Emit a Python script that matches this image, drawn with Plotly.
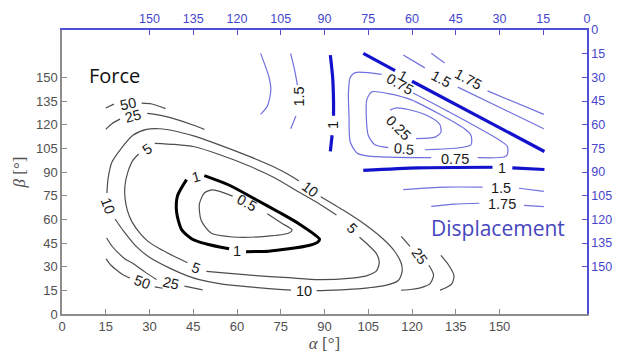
import plotly.graph_objects as go

# ---------------- Force contours (alpha, beta in degrees) ----------------
# each contour is a list of pieces; pieces are broken where a level label sits
force_50 = [
    [(15.0, 130.6), (17.8, 133.0)],
    [(27.3, 133.6), (30.8, 133.1), (35.5, 130.2)],
    [(15.1, 35.0), (16.8, 30.9), (18.7, 27.9), (20.9, 24.9), (23.3, 22.8)],
    [(31.8, 17.2), (34.5, 16.3)],
    [(129.9, 37.1), (132.6, 30.9), (134.4, 24.2), (133.7, 19.3), (131.6, 16.6), (129.6, 15.1)],
]
force_25 = [
    [(15.0, 117.0), (17.1, 120.6), (19.9, 123.5)],
    [(29.2, 127.2), (33.5, 126.1), (38.6, 123.7), (45.4, 119.5), (48.8, 117.0)],
    [(15.3, 48.2), (17.1, 43.1), (19.2, 38.9), (21.6, 34.9), (24.4, 32.0), (28.4, 26.7), (32.4, 21.8)],
    [(42.0, 17.7), (48.2, 15.3)],
    [(116.3, 49.2), (119.3, 42.8)],
    [(125.8, 30.9), (127.4, 24.8), (126.2, 19.3), (123.4, 16.9), (120.0, 15.7), (116.3, 15.1)],
]
force_10 = [
    [(15.4, 76.7), (15.8, 85.8), (17.1, 96.2), (20.4, 105.2), (24.3, 113.3), (29.0, 117.0),
     (33.5, 117.4), (38.6, 116.0), (45.4, 112.7), (53.9, 107.2), (64.2, 99.9), (72.7, 93.2),
     (77.8, 88.3), (81.2, 84.3)],
    [(88.7, 74.3), (96.5, 65.7), (104.0, 56.6), (110.2, 47.4), (113.9, 40.1), (116.3, 32.2),
     (116.6, 26.7), (115.3, 21.2), (110.9, 18.1), (105.0, 16.6), (97.2, 15.5), (87.3, 14.8)],
    [(78.5, 15.1), (64.2, 17.2), (53.9, 19.3), (47.1, 21.8), (43.0, 24.2), (36.9, 29.1),
     (30.1, 35.8), (25.0, 43.7), (21.2, 52.3), (18.2, 60.2)],
]
force_5 = [
    [(31.8, 108.2), (38.6, 107.5), (45.4, 106.0), (53.9, 101.1), (64.2, 93.8), (72.7, 86.5),
     (81.2, 77.3), (88.0, 70.0), (94.1, 62.7)],
    [(102.0, 48.6), (105.0, 43.7), (107.8, 38.3), (108.8, 32.8), (107.8, 27.3), (104.4, 24.2),
     (99.3, 22.8), (88.0, 21.8), (77.8, 23.0), (67.6, 24.2), (57.4, 25.7), (49.5, 27.0)],
    [(43.0, 32.5), (38.6, 36.4), (33.5, 41.3), (29.4, 46.2), (26.7, 51.3), (24.0, 58.4),
     (22.4, 65.7), (21.6, 73.6), (21.6, 81.6), (22.6, 90.1), (24.3, 97.4), (26.3, 101.4)],
]
force_1 = [
    [(63.1, 39.5), (70.9, 39.8), (77.8, 41.3), (84.6, 43.4), (87.7, 45.6), (88.3, 47.4),
     (81.2, 57.2), (74.4, 64.5), (66.6, 72.4), (57.4, 81.6), (48.8, 87.7)],
    [(42.7, 85.2), (39.6, 74.9), (39.3, 64.5), (41.0, 53.5), (44.7, 47.4), (49.5, 44.4), (57.3, 41.3)],
]
force_05 = [
    [(58.5, 74.7), (51.7, 78.7), (48.8, 76.7), (47.1, 69.6), (47.7, 59.4), (51.1, 51.3),
     (58.5, 48.8), (69.8, 49.2), (77.8, 51.3), (78.9, 53.3), (75.5, 57.4), (70.4, 63.5)],
]
# (level, alpha, beta, text angle)
force_labels = [
    (50, 22.6, 133.3, -12), (50, 27.5, 20.0, 20),
    (25, 24.5, 125.3, -15), (25, 37.2, 19.8, 13), (25, 122.6, 37.0, 55),
    (10, 84.9, 79.1, 37), (10, 82.9, 14.8, 0), (10, 15.8, 68.6, 70),
    (5, 99.3, 54.2, 45), (5, 46.1, 29.4, 20), (5, 29.2, 104.8, -35),
    (1, 45.8, 87.1, -15), (1, 60.1, 40.1, 0),
    (0.5, 63.5, 70.6, 28),
]

# ---------------- Displacement contours ----------------
disp_1 = [
    [(92.0, 164.1), (92.8, 149.9), (93.1, 134.7), (93.1, 125.6)],
    [(92.6, 113.3), (92.0, 103.1)],
    [(103.3, 165.2), (114.2, 154.2)],
    [(120.0, 147.5), (165.4, 103.0)],
    [(103.3, 91.0), (122.1, 92.6), (147.6, 93.0)],
    [(154.4, 92.6), (165.4, 91.6)],
]
disp_075 = [
    [(120.4, 140.1), (132.2, 128.6), (149.9, 110.3), (152.7, 106.2), (152.7, 101.1),
     (151.6, 99.5), (142.5, 99.1)],
    [(126.6, 99.1), (105.0, 100.1), (101.1, 102.1), (98.8, 109.2), (98.4, 125.5),
     (98.2, 139.7), (98.8, 149.9), (100.5, 153.0), (109.6, 151.9)],
]
disp_05 = [
    [(124.4, 104.1), (140.2, 107.2), (140.2, 113.3), (138.0, 117.4), (119.8, 135.7),
     (111.9, 139.7), (106.2, 140.8), (104.5, 135.7), (105.0, 113.3), (107.3, 107.2), (111.9, 105.4)],
]
disp_025 = [
    [(112.5, 129.2), (114.6, 130.6), (118.7, 129.6), (125.5, 125.5), (129.5, 120.3),
     (129.9, 115.1), (127.9, 112.1), (121.4, 111.2)],
]
disp_15 = [
    [(78.4, 165.2), (79.8, 154.2), (80.7, 145.0)],
    [(80.2, 125.5), (78.4, 117.4)],
    [(117.0, 164.1), (124.4, 156.0)],
    [(135.7, 143.8), (165.2, 117.4)],
    [(117.0, 78.8), (131.2, 80.4), (144.2, 80.4)],
    [(156.7, 79.7), (165.2, 77.7)],
]
disp_175 = [
    [(68.1, 165.2), (71.0, 149.9), (71.6, 141.8), (70.4, 131.6), (68.1, 126.5)],
    [(126.6, 165.2), (131.2, 159.1)],
    [(145.9, 141.4), (165.2, 126.5)],
    [(126.6, 68.2), (134.6, 69.6), (143.1, 70.2)],
    [(158.4, 68.9), (165.2, 68.0)],
]
disp_labels = [
    (1, 93.1, 119.5, -90), (1, 117.0, 151.1, 30), (1, 151.0, 92.6, 0),
    (0.75, 115.8, 145.8, 30), (0.75, 134.6, 98.0, 0),
    (0.5, 117.3, 104.8, 5), (0.25, 115.3, 117.6, 45),
    (1.5, 81.2, 137.7, -90), (1.5, 130.0, 148.9, 28), (1.5, 150.5, 79.7, 0),
    (1.75, 139.1, 148.7, 28), (1.75, 150.7, 69.6, 0),
]

bottom_ticks = list(range(0, 151, 15))
left_ticks = list(range(0, 151, 15))

GRAY_LINE = "#4d4d4d"
BLUE_THIN = "rgb(112,112,222)"
BLUE_THICK = "rgb(18,18,205)"
BLUE_AXIS = "rgb(80,80,215)"
AXIS_GRAY = "#8c8c8c"

fig = go.Figure()


def add_contour(pieces, color, width):
    for piece in pieces:
        fig.add_trace(go.Scatter(
            x=[p[0] for p in piece], y=[p[1] for p in piece],
            mode="lines", line=dict(color=color, width=width, shape="spline", smoothing=0.7),
            hoverinfo="skip", showlegend=False))


for pieces in (force_50, force_25, force_10, force_5, force_05):
    add_contour(pieces, GRAY_LINE, 1.2)
add_contour(force_1, "black", 3)
for pieces in (disp_175, disp_15, disp_075, disp_05, disp_025):
    add_contour(pieces, BLUE_THIN, 1.2)
add_contour(disp_1, BLUE_THICK, 3.2)

# empty trace so the top/right axes are rendered
fig.add_trace(go.Scatter(x=[None], y=[None], xaxis="x2", yaxis="y2",
                         mode="markers", showlegend=False, hoverinfo="skip"))

annotations = []
for level, a, b, ang in force_labels + disp_labels:
    annotations.append(dict(
        x=a, y=b, xref="x", yref="y", text=f"{level:g}", showarrow=False,
        textangle=ang, xanchor="center", yanchor="middle",
        font=dict(family="Liberation Sans, Arial, sans-serif", size=14.5, color="#1a1a1a")))

annotations.append(dict(x=17.9, y=151.1, xref="x", yref="y", text="Force", showarrow=False,
                        font=dict(family="Open Sans, sans-serif", size=20, color="#111111")))
annotations.append(dict(x=149.5, y=54.4, xref="x", yref="y", text="Displacement", showarrow=False,
                        font=dict(family="Open Sans, sans-serif", size=21, color="rgb(70,70,190)")))

tick_font_gray = dict(family="Liberation Sans, Arial, sans-serif", size=13, color="#505050")
tick_font_blue = dict(family="Liberation Sans, Arial, sans-serif", size=12.5, color="rgb(70,70,205)")

fig.update_layout(
    width=624, height=362,
    margin=dict(l=62, r=34, t=21, b=46),
    paper_bgcolor="white", plot_bgcolor="white",
    annotations=annotations,
    xaxis=dict(range=[0, 180], tickvals=bottom_ticks, ticks="inside", ticklen=5,
               tickcolor=AXIS_GRAY, showline=True, linecolor=AXIS_GRAY, linewidth=1.5,
               showgrid=False, zeroline=False, tickfont=tick_font_gray,
               title=dict(text="<i>α</i> [°]", standoff=4,
                          font=dict(family="Liberation Serif, serif", size=17, color="#505050"))),
    yaxis=dict(range=[0, 180], tickvals=left_ticks, ticks="inside", ticklen=5,
               tickcolor=AXIS_GRAY, showline=True, linecolor=AXIS_GRAY, linewidth=1.5,
               showgrid=False, zeroline=False, tickfont=tick_font_gray,
               title=dict(text="<i>β</i> [°]", standoff=6,
                          font=dict(family="Liberation Serif, serif", size=17, color="#505050"))),
    xaxis2=dict(overlaying="x", side="top", anchor="y", range=[180, 0], tickvals=bottom_ticks,
                ticks="inside", ticklen=5, tickcolor=BLUE_AXIS, showline=True, linecolor=BLUE_AXIS,
                linewidth=1.5, showgrid=False, zeroline=False, tickfont=tick_font_blue),
    yaxis2=dict(overlaying="y", side="right", anchor="x", range=[180, 0], tickvals=left_ticks,
                ticks="inside", ticklen=5, tickcolor=BLUE_AXIS, showline=True, linecolor=BLUE_AXIS,
                linewidth=1.5, showgrid=False, zeroline=False, tickfont=tick_font_blue),
)

fig.write_html("out.html")
